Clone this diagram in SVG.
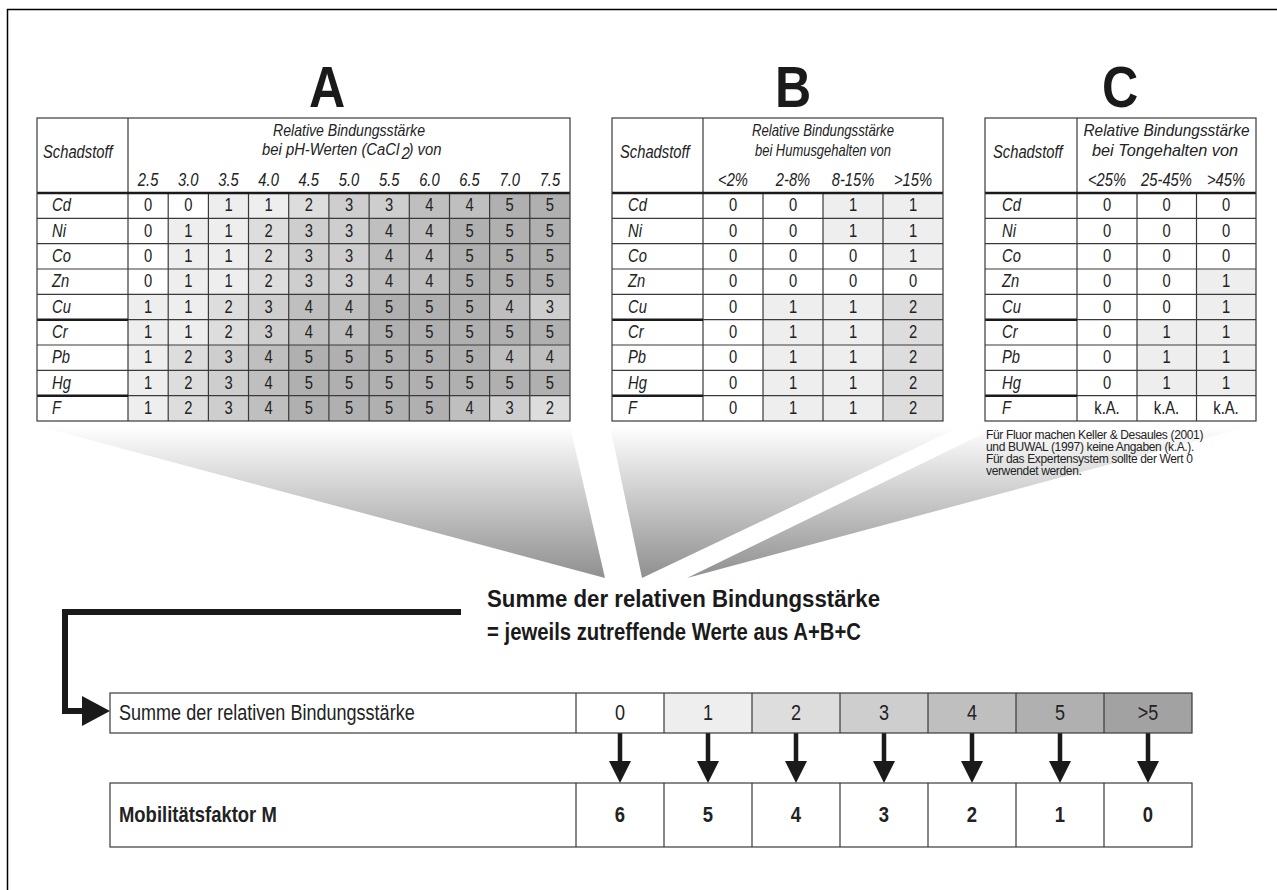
<svg xmlns="http://www.w3.org/2000/svg" width="1277" height="890" viewBox="0 0 1277 890">
<defs>
<linearGradient id="fg" gradientUnits="userSpaceOnUse" x1="0" y1="426" x2="0" y2="580">
<stop offset="0" stop-color="#ffffff"/>
<stop offset="1" stop-color="#8e8e8e"/>
</linearGradient>
<style>
.n{font-family:"Liberation Sans",Arial,sans-serif;fill:#222}
.it{font-style:italic;font-size:18px}
.cell{font-size:18px;text-anchor:middle}
.hd{font-size:18px;font-style:italic;text-anchor:middle}
.hl{font-size:17px;font-style:italic;text-anchor:middle}
.hs{font-size:17px;font-style:italic}
.big{font-family:"Liberation Sans",Arial,sans-serif;font-weight:bold;font-size:57px;text-anchor:middle;fill:#1a1a1a}
.bt{font-family:"Liberation Sans",Arial,sans-serif;font-weight:bold;font-size:23px;fill:#1a1a1a}
.note{font-family:"Liberation Sans",Arial,sans-serif;font-size:12px;letter-spacing:-0.35px;fill:#222}
.v1{fill:#eeeeee}.v2{fill:#dddddd}.v3{fill:#cecece}.v4{fill:#bfbfbf}.v5{fill:#b0b0b0}.v6{fill:#a2a2a2}
.g{stroke:#3a3a3a;stroke-width:1.2;fill:none}
.gt{stroke:#1a1a1a;stroke-width:2.5;fill:none}
.frame{stroke:#000;stroke-width:1.5;fill:none}
.conn{stroke:#1a1a1a;stroke-width:6;fill:none}
.dn{stroke:#1a1a1a;stroke-width:4.5;fill:none}
.ah{fill:#1a1a1a}
.sb{font-size:22px;text-anchor:middle}
.sl{font-size:22px}
.mb{font-size:22.5px;font-weight:bold}
</style>
</defs>
<rect width="1277" height="890" fill="#ffffff"/>
<path class="frame" d="M7.5,890 V9.5 H1277"/>

<g id="funnels">
<polygon points="38,426 570,426 605,578" fill="url(#fg)"/>
<polygon points="610,426 962,426 642,578" fill="url(#fg)"/>
<polygon points="999,426 1252,426 687,578" fill="url(#fg)"/>
</g>

<g id="labels">
<text class="big" transform="translate(327,107) scale(0.88,1)">A</text>
<text class="big" transform="translate(793,107) scale(0.88,1)">B</text>
<text class="big" transform="translate(1120,107) scale(0.88,1)">C</text>
</g>

<g id="tableA">
<rect x="37" y="118" width="533" height="303" fill="#fff"/>
<g>
<rect class="v1" x="208.4" y="193" width="40.3" height="25.4"/><rect class="v1" x="248.5" y="193" width="40.3" height="25.4"/><rect class="v2" x="288.7" y="193" width="40.3" height="25.4"/><rect class="v3" x="328.9" y="193" width="40.3" height="25.4"/><rect class="v3" x="369.1" y="193" width="40.3" height="25.4"/><rect class="v4" x="409.3" y="193" width="40.3" height="25.4"/><rect class="v4" x="449.5" y="193" width="40.3" height="25.4"/><rect class="v5" x="489.6" y="193" width="40.3" height="25.4"/><rect class="v5" x="529.8" y="193" width="40.3" height="25.4"/>
<rect class="v1" x="168.2" y="218.3" width="40.3" height="25.4"/><rect class="v1" x="208.4" y="218.3" width="40.3" height="25.4"/><rect class="v2" x="248.5" y="218.3" width="40.3" height="25.4"/><rect class="v3" x="288.7" y="218.3" width="40.3" height="25.4"/><rect class="v3" x="328.9" y="218.3" width="40.3" height="25.4"/><rect class="v4" x="369.1" y="218.3" width="40.3" height="25.4"/><rect class="v4" x="409.3" y="218.3" width="40.3" height="25.4"/><rect class="v5" x="449.5" y="218.3" width="40.3" height="25.4"/><rect class="v5" x="489.6" y="218.3" width="40.3" height="25.4"/><rect class="v5" x="529.8" y="218.3" width="40.3" height="25.4"/>
<rect class="v1" x="168.2" y="243.7" width="40.3" height="25.4"/><rect class="v1" x="208.4" y="243.7" width="40.3" height="25.4"/><rect class="v2" x="248.5" y="243.7" width="40.3" height="25.4"/><rect class="v3" x="288.7" y="243.7" width="40.3" height="25.4"/><rect class="v3" x="328.9" y="243.7" width="40.3" height="25.4"/><rect class="v4" x="369.1" y="243.7" width="40.3" height="25.4"/><rect class="v4" x="409.3" y="243.7" width="40.3" height="25.4"/><rect class="v5" x="449.5" y="243.7" width="40.3" height="25.4"/><rect class="v5" x="489.6" y="243.7" width="40.3" height="25.4"/><rect class="v5" x="529.8" y="243.7" width="40.3" height="25.4"/>
<rect class="v1" x="168.2" y="269" width="40.3" height="25.4"/><rect class="v1" x="208.4" y="269" width="40.3" height="25.4"/><rect class="v2" x="248.5" y="269" width="40.3" height="25.4"/><rect class="v3" x="288.7" y="269" width="40.3" height="25.4"/><rect class="v3" x="328.9" y="269" width="40.3" height="25.4"/><rect class="v4" x="369.1" y="269" width="40.3" height="25.4"/><rect class="v4" x="409.3" y="269" width="40.3" height="25.4"/><rect class="v5" x="449.5" y="269" width="40.3" height="25.4"/><rect class="v5" x="489.6" y="269" width="40.3" height="25.4"/><rect class="v5" x="529.8" y="269" width="40.3" height="25.4"/>
<rect class="v1" x="128" y="294.3" width="40.3" height="25.4"/><rect class="v1" x="168.2" y="294.3" width="40.3" height="25.4"/><rect class="v2" x="208.4" y="294.3" width="40.3" height="25.4"/><rect class="v3" x="248.5" y="294.3" width="40.3" height="25.4"/><rect class="v4" x="288.7" y="294.3" width="40.3" height="25.4"/><rect class="v4" x="328.9" y="294.3" width="40.3" height="25.4"/><rect class="v5" x="369.1" y="294.3" width="40.3" height="25.4"/><rect class="v5" x="409.3" y="294.3" width="40.3" height="25.4"/><rect class="v5" x="449.5" y="294.3" width="40.3" height="25.4"/><rect class="v4" x="489.6" y="294.3" width="40.3" height="25.4"/><rect class="v3" x="529.8" y="294.3" width="40.3" height="25.4"/>
<rect class="v1" x="128" y="319.7" width="40.3" height="25.4"/><rect class="v1" x="168.2" y="319.7" width="40.3" height="25.4"/><rect class="v2" x="208.4" y="319.7" width="40.3" height="25.4"/><rect class="v3" x="248.5" y="319.7" width="40.3" height="25.4"/><rect class="v4" x="288.7" y="319.7" width="40.3" height="25.4"/><rect class="v4" x="328.9" y="319.7" width="40.3" height="25.4"/><rect class="v5" x="369.1" y="319.7" width="40.3" height="25.4"/><rect class="v5" x="409.3" y="319.7" width="40.3" height="25.4"/><rect class="v5" x="449.5" y="319.7" width="40.3" height="25.4"/><rect class="v5" x="489.6" y="319.7" width="40.3" height="25.4"/><rect class="v5" x="529.8" y="319.7" width="40.3" height="25.4"/>
<rect class="v1" x="128" y="345" width="40.3" height="25.4"/><rect class="v2" x="168.2" y="345" width="40.3" height="25.4"/><rect class="v3" x="208.4" y="345" width="40.3" height="25.4"/><rect class="v4" x="248.5" y="345" width="40.3" height="25.4"/><rect class="v5" x="288.7" y="345" width="40.3" height="25.4"/><rect class="v5" x="328.9" y="345" width="40.3" height="25.4"/><rect class="v5" x="369.1" y="345" width="40.3" height="25.4"/><rect class="v5" x="409.3" y="345" width="40.3" height="25.4"/><rect class="v5" x="449.5" y="345" width="40.3" height="25.4"/><rect class="v4" x="489.6" y="345" width="40.3" height="25.4"/><rect class="v4" x="529.8" y="345" width="40.3" height="25.4"/>
<rect class="v1" x="128" y="370.3" width="40.3" height="25.4"/><rect class="v2" x="168.2" y="370.3" width="40.3" height="25.4"/><rect class="v3" x="208.4" y="370.3" width="40.3" height="25.4"/><rect class="v4" x="248.5" y="370.3" width="40.3" height="25.4"/><rect class="v5" x="288.7" y="370.3" width="40.3" height="25.4"/><rect class="v5" x="328.9" y="370.3" width="40.3" height="25.4"/><rect class="v5" x="369.1" y="370.3" width="40.3" height="25.4"/><rect class="v5" x="409.3" y="370.3" width="40.3" height="25.4"/><rect class="v5" x="449.5" y="370.3" width="40.3" height="25.4"/><rect class="v5" x="489.6" y="370.3" width="40.3" height="25.4"/><rect class="v5" x="529.8" y="370.3" width="40.3" height="25.4"/>
<rect class="v1" x="128" y="395.7" width="40.3" height="25.3"/><rect class="v2" x="168.2" y="395.7" width="40.3" height="25.3"/><rect class="v3" x="208.4" y="395.7" width="40.3" height="25.3"/><rect class="v4" x="248.5" y="395.7" width="40.3" height="25.3"/><rect class="v5" x="288.7" y="395.7" width="40.3" height="25.3"/><rect class="v5" x="328.9" y="395.7" width="40.3" height="25.3"/><rect class="v5" x="369.1" y="395.7" width="40.3" height="25.3"/><rect class="v5" x="409.3" y="395.7" width="40.3" height="25.3"/><rect class="v4" x="449.5" y="395.7" width="40.3" height="25.3"/><rect class="v3" x="489.6" y="395.7" width="40.3" height="25.3"/><rect class="v2" x="529.8" y="395.7" width="40.3" height="25.3"/>
</g>
<path class="g" d="M128,118 V421 M168.2,193 V421 M208.4,193 V421 M248.5,193 V421 M288.7,193 V421 M328.9,193 V421 M369.1,193 V421 M409.3,193 V421 M449.5,193 V421 M489.6,193 V421 M529.8,193 V421 M37,218.3 H570 M37,243.7 H570 M37,269 H570 M37,294.3 H570 M37,319.7 H570 M37,345 H570 M37,370.3 H570 M37,395.7 H570"/>
<path class="gt" d="M37,193 H570 M37,319.7 H128 M37,395.7 H128"/>
<rect class="g" x="37" y="118" width="533" height="303"/>
<text class="n hl" x="349" y="136" textLength="152" lengthAdjust="spacingAndGlyphs">Relative Bindungsstärke</text>
<g transform="translate(262,0) scale(0.873,1)">
<text class="n hs" x="0" y="155.5">bei pH-Werten (CaCl</text>
<text class="n hs" x="159.8" y="159.5" font-size="11">2</text>
<text class="n hs" x="167.8" y="155.5">) von</text>
</g>
<g transform="scale(0.82,1)">
<text class="n it" x="52.44" y="158">Schadstoff</text>
<text class="n hd" y="186"><tspan x="180.61">2.5</tspan><tspan x="229.63">3.0</tspan><tspan x="278.66">3.5</tspan><tspan x="327.56">4.0</tspan><tspan x="376.59">4.5</tspan><tspan x="425.61">5.0</tspan><tspan x="474.63">5.5</tspan><tspan x="523.66">6.0</tspan><tspan x="572.56">6.5</tspan><tspan x="621.59">7.0</tspan><tspan x="670.61">7.5</tspan></text>
<g class="n it">
<text x="63.41" y="211.5">Cd</text><text x="63.41" y="236.8">Ni</text><text x="63.41" y="262.2">Co</text><text x="63.41" y="287.5">Zn</text><text x="63.41" y="312.8">Cu</text><text x="63.41" y="338.2">Cr</text><text x="63.41" y="363.5">Pb</text><text x="63.41" y="388.8">Hg</text><text x="63.41" y="414.2">F</text>
</g>
<g class="n cell">
<text y="211.5"><tspan x="180.61">0</tspan><tspan x="229.63">0</tspan><tspan x="278.66">1</tspan><tspan x="327.56">1</tspan><tspan x="376.59">2</tspan><tspan x="425.61">3</tspan><tspan x="474.63">3</tspan><tspan x="523.66">4</tspan><tspan x="572.56">4</tspan><tspan x="621.59">5</tspan><tspan x="670.61">5</tspan></text>
<text y="236.8"><tspan x="180.61">0</tspan><tspan x="229.63">1</tspan><tspan x="278.66">1</tspan><tspan x="327.56">2</tspan><tspan x="376.59">3</tspan><tspan x="425.61">3</tspan><tspan x="474.63">4</tspan><tspan x="523.66">4</tspan><tspan x="572.56">5</tspan><tspan x="621.59">5</tspan><tspan x="670.61">5</tspan></text>
<text y="262.2"><tspan x="180.61">0</tspan><tspan x="229.63">1</tspan><tspan x="278.66">1</tspan><tspan x="327.56">2</tspan><tspan x="376.59">3</tspan><tspan x="425.61">3</tspan><tspan x="474.63">4</tspan><tspan x="523.66">4</tspan><tspan x="572.56">5</tspan><tspan x="621.59">5</tspan><tspan x="670.61">5</tspan></text>
<text y="287.5"><tspan x="180.61">0</tspan><tspan x="229.63">1</tspan><tspan x="278.66">1</tspan><tspan x="327.56">2</tspan><tspan x="376.59">3</tspan><tspan x="425.61">3</tspan><tspan x="474.63">4</tspan><tspan x="523.66">4</tspan><tspan x="572.56">5</tspan><tspan x="621.59">5</tspan><tspan x="670.61">5</tspan></text>
<text y="312.8"><tspan x="180.61">1</tspan><tspan x="229.63">1</tspan><tspan x="278.66">2</tspan><tspan x="327.56">3</tspan><tspan x="376.59">4</tspan><tspan x="425.61">4</tspan><tspan x="474.63">5</tspan><tspan x="523.66">5</tspan><tspan x="572.56">5</tspan><tspan x="621.59">4</tspan><tspan x="670.61">3</tspan></text>
<text y="338.2"><tspan x="180.61">1</tspan><tspan x="229.63">1</tspan><tspan x="278.66">2</tspan><tspan x="327.56">3</tspan><tspan x="376.59">4</tspan><tspan x="425.61">4</tspan><tspan x="474.63">5</tspan><tspan x="523.66">5</tspan><tspan x="572.56">5</tspan><tspan x="621.59">5</tspan><tspan x="670.61">5</tspan></text>
<text y="363.5"><tspan x="180.61">1</tspan><tspan x="229.63">2</tspan><tspan x="278.66">3</tspan><tspan x="327.56">4</tspan><tspan x="376.59">5</tspan><tspan x="425.61">5</tspan><tspan x="474.63">5</tspan><tspan x="523.66">5</tspan><tspan x="572.56">5</tspan><tspan x="621.59">4</tspan><tspan x="670.61">4</tspan></text>
<text y="388.8"><tspan x="180.61">1</tspan><tspan x="229.63">2</tspan><tspan x="278.66">3</tspan><tspan x="327.56">4</tspan><tspan x="376.59">5</tspan><tspan x="425.61">5</tspan><tspan x="474.63">5</tspan><tspan x="523.66">5</tspan><tspan x="572.56">5</tspan><tspan x="621.59">5</tspan><tspan x="670.61">5</tspan></text>
<text y="414.2"><tspan x="180.61">1</tspan><tspan x="229.63">2</tspan><tspan x="278.66">3</tspan><tspan x="327.56">4</tspan><tspan x="376.59">5</tspan><tspan x="425.61">5</tspan><tspan x="474.63">5</tspan><tspan x="523.66">5</tspan><tspan x="572.56">4</tspan><tspan x="621.59">3</tspan><tspan x="670.61">2</tspan></text>
</g>
</g>
</g>

<g id="tableB">
<rect x="612" y="118" width="331" height="303" fill="#fff"/>
<rect class="v1" x="823" y="193" width="60" height="25.4"/><rect class="v1" x="883" y="193" width="60" height="25.4"/>
<rect class="v1" x="823" y="218.3" width="60" height="25.4"/><rect class="v1" x="883" y="218.3" width="60" height="25.4"/>
<rect class="v1" x="883" y="243.7" width="60" height="25.4"/>
<rect class="v1" x="763" y="294.3" width="60" height="25.4"/><rect class="v1" x="823" y="294.3" width="60" height="25.4"/><rect class="v2" x="883" y="294.3" width="60" height="25.4"/>
<rect class="v1" x="763" y="319.7" width="60" height="25.4"/><rect class="v1" x="823" y="319.7" width="60" height="25.4"/><rect class="v2" x="883" y="319.7" width="60" height="25.4"/>
<rect class="v1" x="763" y="345" width="60" height="25.4"/><rect class="v1" x="823" y="345" width="60" height="25.4"/><rect class="v2" x="883" y="345" width="60" height="25.4"/>
<rect class="v1" x="763" y="370.3" width="60" height="25.4"/><rect class="v1" x="823" y="370.3" width="60" height="25.4"/><rect class="v2" x="883" y="370.3" width="60" height="25.4"/>
<rect class="v1" x="763" y="395.7" width="60" height="25.3"/><rect class="v1" x="823" y="395.7" width="60" height="25.3"/><rect class="v2" x="883" y="395.7" width="60" height="25.3"/>
<path class="g" d="M703,118 V421 M763,193 V421 M823,193 V421 M883,193 V421 M612,218.3 H943 M612,243.7 H943 M612,269 H943 M612,294.3 H943 M612,319.7 H943 M612,345 H943 M612,370.3 H943 M612,395.7 H943"/>
<path class="gt" d="M612,193 H943 M612,319.7 H703 M612,395.7 H703"/>
<rect class="g" x="612" y="118" width="331" height="303"/>
<text class="n hl" x="823" y="136" textLength="142" lengthAdjust="spacingAndGlyphs">Relative Bindungsstärke</text>
<text class="n hl" x="823" y="155.5" textLength="136" lengthAdjust="spacingAndGlyphs">bei Humusgehalten von</text>
<g transform="scale(0.82,1)">
<text class="n it" x="756.1" y="158">Schadstoff</text>
<text class="n hd" y="186"><tspan x="893.9">&lt;2%</tspan><tspan x="967.07">2-8%</tspan><tspan x="1040.24">8-15%</tspan><tspan x="1113.41">&gt;15%</tspan></text>
<g class="n it">
<text x="765.85" y="211.5">Cd</text><text x="765.85" y="236.8">Ni</text><text x="765.85" y="262.2">Co</text><text x="765.85" y="287.5">Zn</text><text x="765.85" y="312.8">Cu</text><text x="765.85" y="338.2">Cr</text><text x="765.85" y="363.5">Pb</text><text x="765.85" y="388.8">Hg</text><text x="765.85" y="414.2">F</text>
</g>
<g class="n cell">
<text y="211.5"><tspan x="893.9">0</tspan><tspan x="967.07">0</tspan><tspan x="1040.24">1</tspan><tspan x="1113.41">1</tspan></text>
<text y="236.8"><tspan x="893.9">0</tspan><tspan x="967.07">0</tspan><tspan x="1040.24">1</tspan><tspan x="1113.41">1</tspan></text>
<text y="262.2"><tspan x="893.9">0</tspan><tspan x="967.07">0</tspan><tspan x="1040.24">0</tspan><tspan x="1113.41">1</tspan></text>
<text y="287.5"><tspan x="893.9">0</tspan><tspan x="967.07">0</tspan><tspan x="1040.24">0</tspan><tspan x="1113.41">0</tspan></text>
<text y="312.8"><tspan x="893.9">0</tspan><tspan x="967.07">1</tspan><tspan x="1040.24">1</tspan><tspan x="1113.41">2</tspan></text>
<text y="338.2"><tspan x="893.9">0</tspan><tspan x="967.07">1</tspan><tspan x="1040.24">1</tspan><tspan x="1113.41">2</tspan></text>
<text y="363.5"><tspan x="893.9">0</tspan><tspan x="967.07">1</tspan><tspan x="1040.24">1</tspan><tspan x="1113.41">2</tspan></text>
<text y="388.8"><tspan x="893.9">0</tspan><tspan x="967.07">1</tspan><tspan x="1040.24">1</tspan><tspan x="1113.41">2</tspan></text>
<text y="414.2"><tspan x="893.9">0</tspan><tspan x="967.07">1</tspan><tspan x="1040.24">1</tspan><tspan x="1113.41">2</tspan></text>
</g>
</g>
</g>

<g id="tableC">
<rect x="985" y="118" width="271" height="303" fill="#fff"/>
<rect class="v1" x="1196.5" y="269" width="59.5" height="25.4"/>
<rect class="v1" x="1196.5" y="294.3" width="59.5" height="25.4"/>
<rect class="v1" x="1137" y="319.7" width="59.5" height="25.4"/><rect class="v1" x="1196.5" y="319.7" width="59.5" height="25.4"/>
<rect class="v1" x="1137" y="345" width="59.5" height="25.4"/><rect class="v1" x="1196.5" y="345" width="59.5" height="25.4"/>
<rect class="v1" x="1137" y="370.3" width="59.5" height="25.4"/><rect class="v1" x="1196.5" y="370.3" width="59.5" height="25.4"/>
<path class="g" d="M1077,118 V421 M1137,193 V421 M1196.5,193 V421 M985,218.3 H1256 M985,243.7 H1256 M985,269 H1256 M985,294.3 H1256 M985,319.7 H1256 M985,345 H1256 M985,370.3 H1256 M985,395.7 H1256"/>
<path class="gt" d="M985,193 H1256 M985,319.7 H1077 M985,395.7 H1077"/>
<rect class="g" x="985" y="118" width="271" height="303"/>
<text class="n hl" x="1166.5" y="136" textLength="166" lengthAdjust="spacingAndGlyphs">Relative Bindungsstärke</text>
<text class="n hl" x="1165" y="155.5" textLength="146" lengthAdjust="spacingAndGlyphs">bei Tongehalten von</text>
<g transform="scale(0.82,1)">
<text class="n it" x="1210.98" y="158">Schadstoff</text>
<text class="n hd" y="186"><tspan x="1350">&lt;25%</tspan><tspan x="1422.56">25-45%</tspan><tspan x="1495.12">&gt;45%</tspan></text>
<g class="n it">
<text x="1221.95" y="211.5">Cd</text><text x="1221.95" y="236.8">Ni</text><text x="1221.95" y="262.2">Co</text><text x="1221.95" y="287.5">Zn</text><text x="1221.95" y="312.8">Cu</text><text x="1221.95" y="338.2">Cr</text><text x="1221.95" y="363.5">Pb</text><text x="1221.95" y="388.8">Hg</text><text x="1221.95" y="414.2">F</text>
</g>
<g class="n cell">
<text y="211.5"><tspan x="1350">0</tspan><tspan x="1422.56">0</tspan><tspan x="1495.12">0</tspan></text>
<text y="236.8"><tspan x="1350">0</tspan><tspan x="1422.56">0</tspan><tspan x="1495.12">0</tspan></text>
<text y="262.2"><tspan x="1350">0</tspan><tspan x="1422.56">0</tspan><tspan x="1495.12">0</tspan></text>
<text y="287.5"><tspan x="1350">0</tspan><tspan x="1422.56">0</tspan><tspan x="1495.12">1</tspan></text>
<text y="312.8"><tspan x="1350">0</tspan><tspan x="1422.56">0</tspan><tspan x="1495.12">1</tspan></text>
<text y="338.2"><tspan x="1350">0</tspan><tspan x="1422.56">1</tspan><tspan x="1495.12">1</tspan></text>
<text y="363.5"><tspan x="1350">0</tspan><tspan x="1422.56">1</tspan><tspan x="1495.12">1</tspan></text>
<text y="388.8"><tspan x="1350">0</tspan><tspan x="1422.56">1</tspan><tspan x="1495.12">1</tspan></text>
<text y="414.2"><tspan x="1350">k.A.</tspan><tspan x="1422.56">k.A.</tspan><tspan x="1495.12">k.A.</tspan></text>
</g>
</g>
</g>

<g id="note">
<text class="note" x="986" y="439">Für Fluor machen Keller &amp; Desaules (2001)</text>
<text class="note" x="986" y="451">und BUWAL (1997) keine Angaben (k.A.).</text>
<text class="note" x="986" y="463">Für das Expertensystem sollte der Wert 0</text>
<text class="note" x="986" y="475">verwendet werden.</text>
</g>

<g id="sumLabel">
<text class="bt" x="487" y="607" textLength="393" lengthAdjust="spacingAndGlyphs">Summe der relativen Bindungsstärke</text>
<text class="bt" x="487" y="640" textLength="374" lengthAdjust="spacingAndGlyphs">= jeweils zutreffende Werte aus A+B+C</text>
</g>

<g id="connectors">
<path class="conn" d="M461,612 H65 V711 H84"/>
<polygon class="ah" points="82,696 82,726 110,711"/>
<path class="dn" d="M620,733 V763 M708,733 V763 M796,733 V763 M884,733 V763 M972,733 V763 M1060,733 V763 M1148,733 V763"/>
<polygon class="ah" points="609,761 631,761 620,783"/>
<polygon class="ah" points="697,761 719,761 708,783"/>
<polygon class="ah" points="785,761 807,761 796,783"/>
<polygon class="ah" points="873,761 895,761 884,783"/>
<polygon class="ah" points="961,761 983,761 972,783"/>
<polygon class="ah" points="1049,761 1071,761 1060,783"/>
<polygon class="ah" points="1137,761 1159,761 1148,783"/>
</g>

<g id="sumRow">
<rect x="110" y="693" width="1082" height="40" fill="#fff"/>
<rect class="v1" x="664" y="693" width="88" height="40"/>
<rect class="v2" x="752" y="693" width="88" height="40"/>
<rect class="v3" x="840" y="693" width="88" height="40"/>
<rect class="v4" x="928" y="693" width="88" height="40"/>
<rect class="v5" x="1016" y="693" width="88" height="40"/>
<rect class="v6" x="1104" y="693" width="88" height="40"/>
<path class="g" d="M576,693 V733 M664,693 V733 M752,693 V733 M840,693 V733 M928,693 V733 M1016,693 V733 M1104,693 V733"/>
<rect class="g" x="110" y="693" width="1082" height="40"/>
<g transform="scale(0.82,1)">
<text class="n sl" x="145.12" y="720">Summe der relativen Bindungsstärke</text>
<text class="n sb" y="720"><tspan x="756.1">0</tspan><tspan x="863.41">1</tspan><tspan x="970.73">2</tspan><tspan x="1078.05">3</tspan><tspan x="1185.37">4</tspan><tspan x="1292.68">5</tspan><tspan x="1400">&gt;5</tspan></text>
</g>
</g>

<g id="mobRow">
<rect x="110" y="783" width="1082" height="64" fill="#fff"/>
<path class="g" d="M576,783 V847 M664,783 V847 M752,783 V847 M840,783 V847 M928,783 V847 M1016,783 V847 M1104,783 V847"/>
<rect class="g" x="110" y="783" width="1082" height="64"/>
<g transform="scale(0.82,1)">
<text class="n mb" x="145.12" y="822">Mobilitätsfaktor M</text>
<text class="n mb" y="822" text-anchor="middle"><tspan x="756.1">6</tspan><tspan x="863.41">5</tspan><tspan x="970.73">4</tspan><tspan x="1078.05">3</tspan><tspan x="1185.37">2</tspan><tspan x="1292.68">1</tspan><tspan x="1400">0</tspan></text>
</g>
</g>
</svg>
